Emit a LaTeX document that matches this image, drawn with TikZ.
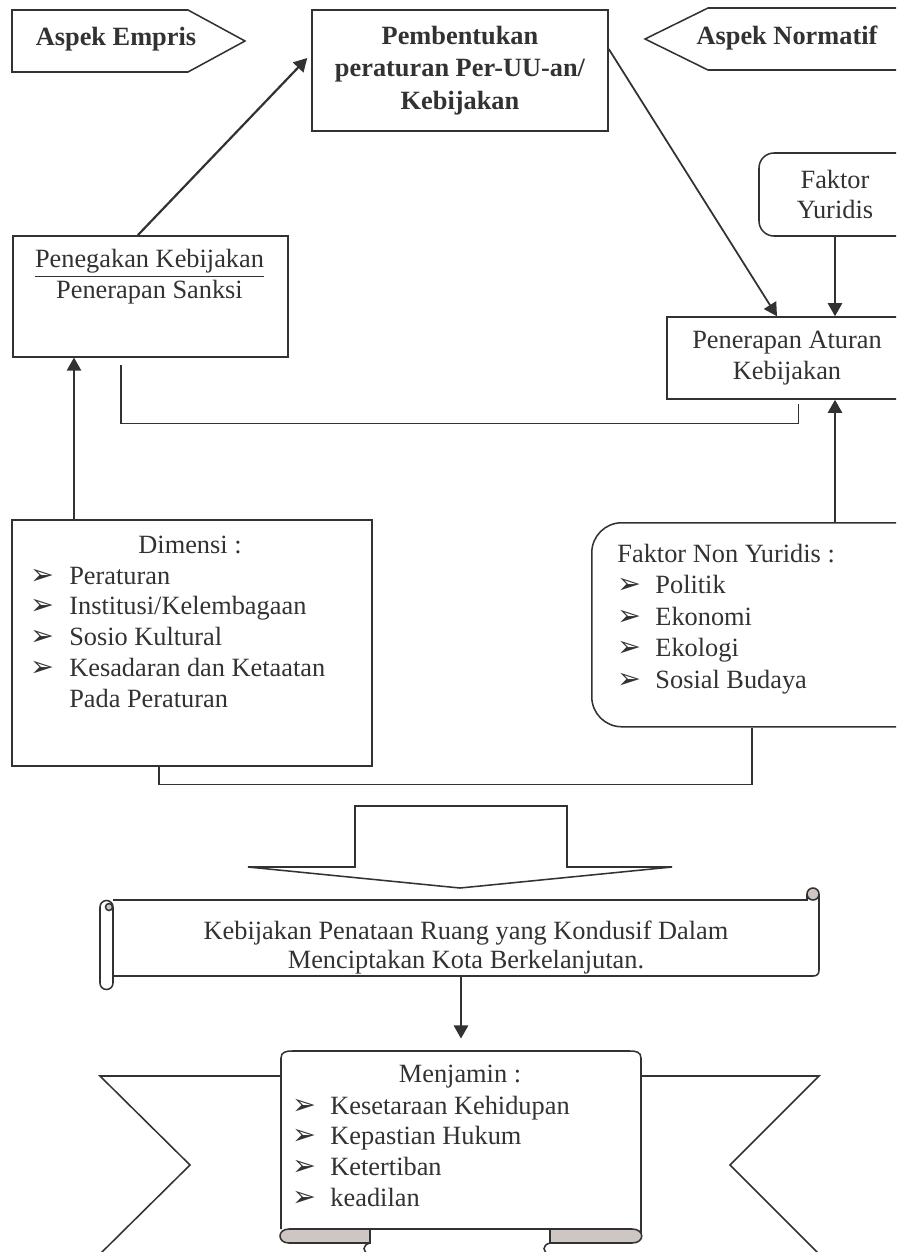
\documentclass[tikz,border=0pt]{standalone}
\usepackage{fontspec}
\setmainfont{Liberation Serif}
\newfontfamily\dingfont{DejaVu Sans}
\usepackage{xcolor}
\usepackage{tikz}
\usetikzlibrary{positioning,arrows.meta,calc}
\definecolor{ink}{RGB}{50,50,52}
\definecolor{curlgray}{RGB}{205,198,195}
\newcommand{\pxu}{0.016cm}
\newcommand{\bul}{{\dingfont\fontsize{13}{13}\selectfont\char"27A2}}

\begin{document}
\begin{tikzpicture}[x=0.016cm, y=0.016cm,
    every node/.style={font=\fontsize{12}{14}\selectfont, text=ink, inner sep=0pt},
    bold/.style={font=\fontsize{12}{14.8}\selectfont\bfseries},
    box/.style={draw=ink, line width=0.7pt, rectangle, align=center},
    arr/.style={draw=ink, line width=1pt, -{Triangle[length=6pt,width=6.5pt]}},
    link/.style={draw=ink, line width=0.6pt},
    shape line/.style={draw=ink, line width=0.7pt}]
    \useasboundingbox (0,0) rectangle (896,-1252);
    \clip (0,0) rectangle (896,-1252);

    % Top row
    \draw[shape line] (12,-10) -- (188,-10) -- (245,-41) -- (188,-72) -- (12,-72) -- cycle;
    \node[bold] (empiris) at (116,-39) {Aspek Empris};
    \draw[shape line] (910,-8) -- (708,-8) -- (645,-39) -- (708,-70) -- (910,-70);
    \node[bold] (normatif) at (787,-38) {Aspek Normatif};
    \node[box, bold, minimum width=296*\pxu, minimum height=121*\pxu] (pembent) at (460,-70.5)
        {Pembentukan\\peraturan Per-UU-an/\\Kebijakan};

    % Left column
    \node[box, minimum width=275*\pxu, minimum height=121*\pxu, anchor=north west] (tegak) at (12,-235) {};
    \node[align=center] (tegaktxt) at (149.5,-277) {\underline{Penegakan Kebijakan}\\Penerapan Sanksi};
    \node[box, minimum width=360*\pxu, minimum height=246*\pxu, anchor=north west] (dimensi) at (11,-519) {};
    \node (dimhead) at (190,-545) {Dimensi :};
    \node[anchor=west] (dimlist) at (30,-639.5) {\begin{tabular}{@{}p{17.7pt}@{}l@{}}
        \bul & Peraturan\\
        \bul & Institusi/Kelembagaan\\
        \bul & Sosio Kultural\\
        \bul & Kesadaran dan Ketaatan\\
             & Pada Peraturan
    \end{tabular}};

    % Right column
    \node[box, rounded corners=0.24cm, minimum width=152*\pxu, minimum height=83*\pxu] (yuridis) at (835,-194.5) {Faktor\\Yuridis};
    \node[box, minimum width=240*\pxu, minimum height=82*\pxu] (aturan) at (787,-358) {Penerapan Aturan\\Kebijakan};
    \node[box, rounded corners=0.48cm, minimum width=409*\pxu, minimum height=204*\pxu, anchor=north west] (nonyur) at (591,-522) {};
    \node[anchor=west, font=\fontsize{12}{14.3}\selectfont] (nonyurlist) at (617,-619) {\begin{tabular}{@{}p{17.3pt}@{}l@{}}
        \multicolumn{2}{@{}l@{}}{Faktor Non Yuridis :}\\
        \bul & Politik\\
        \bul & Ekonomi\\
        \bul & Ekologi\\
        \bul & Sosial Budaya
    \end{tabular}};

    % Connectors
    \draw[arr] ([xshift=126*\pxu]tegak.north west) -- ([xshift=-4*\pxu,yshift=12.5*\pxu]pembent.west);
    \draw[arr, line width=0.8pt] ([yshift=21.5*\pxu]pembent.east) -- ([xshift=-10*\pxu]aturan.north);
    \draw[arr] (yuridis) -- (yuridis |- aturan.north);
    \draw[arr] (nonyur.north -| yuridis) -- (aturan.south -| yuridis);
    \draw[arr] ([xshift=63*\pxu]dimensi.north west) coordinate (dimtop) -- (dimtop |- tegak.south);
    \draw[link] ([xshift=132*\pxu,yshift=-4*\pxu]aturan.south west) -- ++(0,-20)
        -| ([xshift=109*\pxu,yshift=-7*\pxu]tegak.south west);
    \draw[link] ([xshift=148*\pxu]dimensi.south west) -- ++(0,-18) -| ([xshift=161*\pxu]nonyur.south west);

    % Block arrow
    \draw[shape line] (355,-806) -- (567,-806) -- (567,-867) -- (672,-867) -- (460,-888)
        -- (248,-867) -- (355,-867) -- cycle;

    % Scroll
    \node[minimum width=706*\pxu, minimum height=57*\pxu, align=center, font=\fontsize{12}{13.5}\selectfont] (scroll) at (466,-947.5)
        {Kebijakan Penataan Ruang yang Kondusif Dalam\\Menciptakan Kota Berkelanjutan.};
    \draw[shape line] (113,-900) -- (807,-900) |- (813,-895);
    \draw[shape line] (819,-894) -- (819,-970) .. controls (819,-974) and (817,-976) .. (813,-976) -- (113,-976);
    \filldraw[shape line, fill=curlgray] (813,-894) circle[radius=6];
    \draw[shape line, fill=white, rounded corners=0.104cm] (100,-900.5) rectangle (113,-989.5);
    \filldraw[shape line, fill=curlgray] (109,-907) circle[radius=3.5];

    % Ribbon
    \draw[shape line] (281,-1076) -- (100,-1076) -- (190,-1165) -- (100,-1254);
    \draw[shape line] (641,-1076) -- (819,-1076) -- (730,-1165) -- (819,-1254);
    \draw[shape line, fill=white] (281,-1229) -- (281,-1058) .. controls (281,-1052) and (286,-1051) .. (292,-1051)
        -- (630,-1051) .. controls (636,-1051) and (641,-1052) .. (641,-1058) -- (641,-1236);
    \filldraw[shape line, fill=curlgray] (370,-1229) -- (289,-1229) .. controls (277,-1229) and (277,-1243) .. (289,-1243)
        -- (370,-1243) -- cycle;
    \filldraw[shape line, fill=curlgray] (550,-1229) -- (632,-1229) .. controls (645,-1229) and (645,-1243) .. (632,-1243)
        -- (550,-1243) -- cycle;
    \draw[shape line] (370,-1229) -- (550,-1229);
    \draw[shape line] (370,-1243) .. controls (362,-1245) and (362,-1252) .. (370,-1255);
    \draw[shape line] (550,-1243) .. controls (542,-1245) and (542,-1252) .. (550,-1255);
    \node[minimum width=360*\pxu, minimum height=178*\pxu] (ribbon) at (461,-1140) {};
    \node (ribhead) at (460,-1077) {Menjamin :};
    \node[anchor=west] (riblist) at (292,-1154) {\begin{tabular}{@{}p{17.3pt}@{}l@{}}
        \bul & Kesetaraan Kehidupan\\
        \bul & Kepastian Hukum\\
        \bul & Ketertiban\\
        \bul & keadilan
    \end{tabular}};
    \draw[arr] (scroll.south -| ribbon.north) -- ([yshift=12*\pxu]ribbon.north);
\end{tikzpicture}
\end{document}
